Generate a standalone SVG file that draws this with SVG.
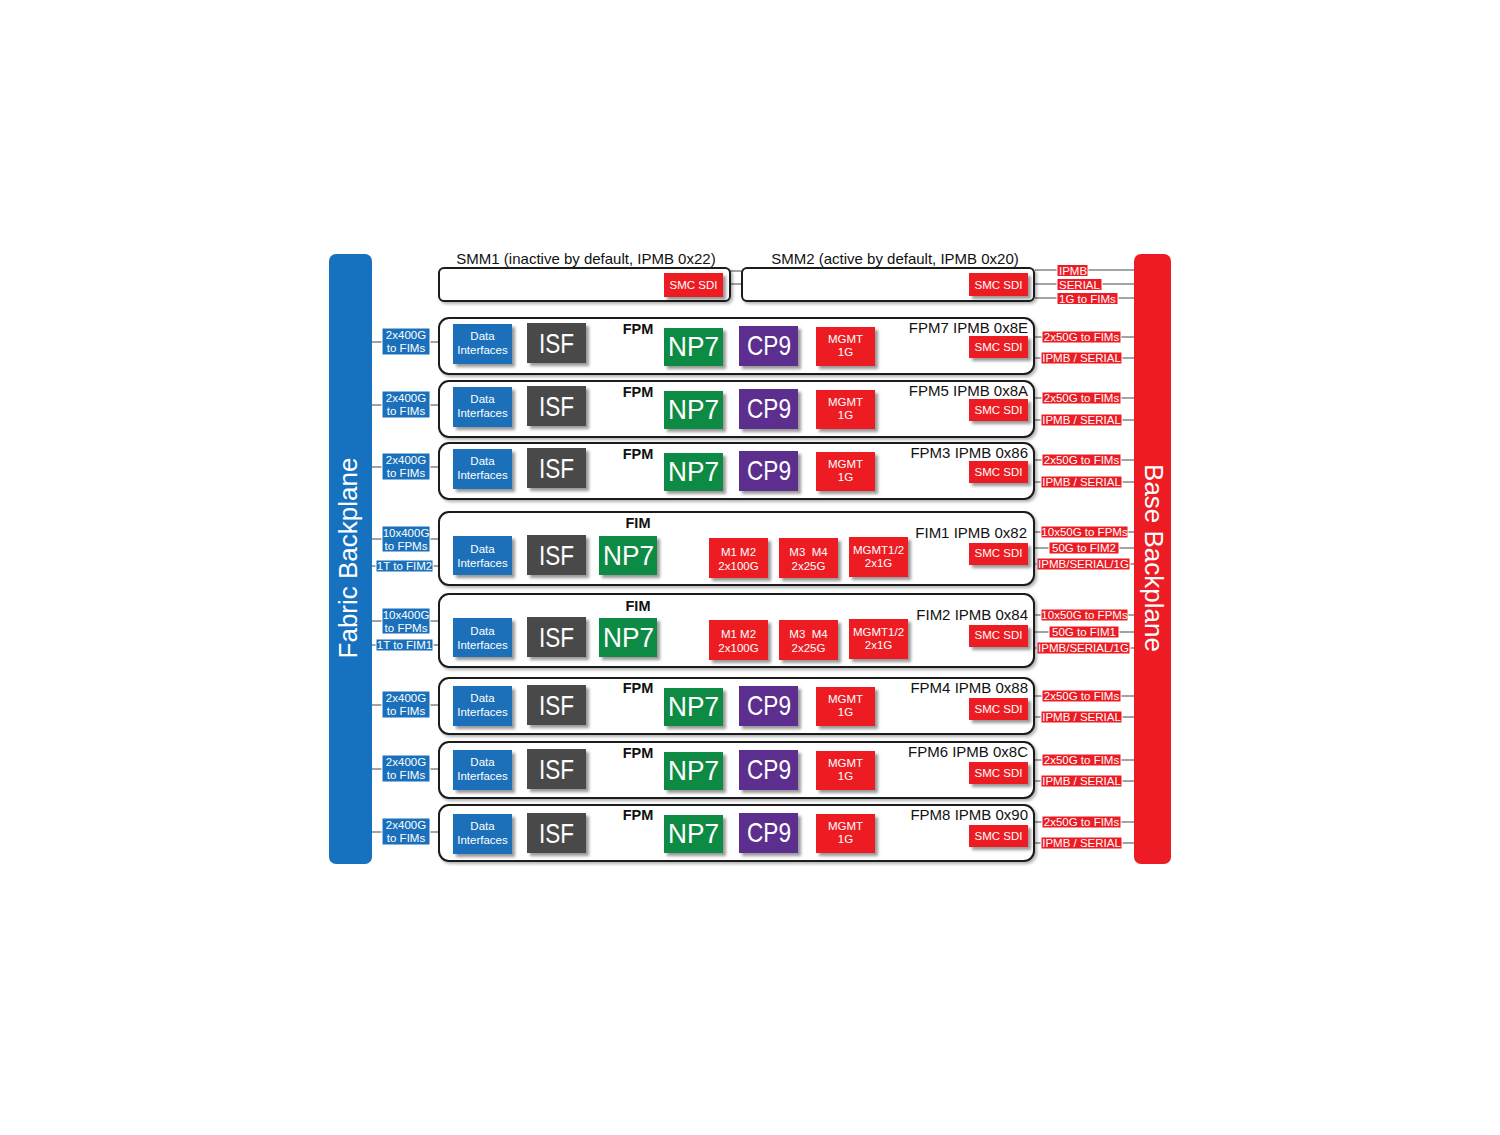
<svg xmlns="http://www.w3.org/2000/svg" width="1500" height="1135" viewBox="0 0 1500 1135">
<defs>
<filter id="sh" x="-20%" y="-20%" width="150%" height="160%">
<feDropShadow dx="3" dy="3" stdDeviation="1.8" flood-color="#000" flood-opacity="0.4"/>
</filter>
<filter id="shr" x="-5%" y="-10%" width="110%" height="130%">
<feDropShadow dx="2" dy="2" stdDeviation="1.5" flood-color="#000" flood-opacity="0.3"/>
</filter>
</defs>
<style>
text{font-family:"Liberation Sans",Arial,sans-serif;}
.row{fill:#fff;stroke:#1a1a1a;stroke-width:2;filter:url(#shr);}
.di{fill:#1a70ba;filter:url(#sh);}
.isf{fill:#4a4a4a;filter:url(#sh);}
.np{fill:#0b8b45;filter:url(#sh);}
.cp{fill:#5c2d8e;filter:url(#sh);}
.rd{fill:#ec1c24;filter:url(#sh);}
.lb{fill:#1a70ba;stroke:#fff;stroke-width:1;}
.lr{fill:#ec1c24;stroke:#fff;stroke-width:1;}
.cn{stroke:#a3a3a3;stroke-width:2;fill:none;}
.w{fill:#fff;}
.m{text-anchor:middle;}
.s11{font-size:11.5px;}
.big{font-size:28px;fill:#fff;}
.ttl{font-size:15px;fill:#111;}
.hd{font-size:14.5px;font-weight:bold;fill:#111;text-anchor:middle;}
.pre{white-space:pre;}
</style>
<rect width="1500" height="1135" fill="#fff"/>

<g id="fabric-backplane">
<rect x="329" y="254" width="43" height="610" rx="7" fill="#1672bf"/>
<text class="w m" font-size="26" transform="translate(357,558) rotate(-90)">Fabric Backplane</text>
</g>
<g id="base-backplane">
<rect x="1134" y="254" width="37" height="610" rx="7" fill="#ed1c24"/>
<text class="w m" font-size="26" transform="translate(1145,558) rotate(90)">Base Backplane</text>
</g>

<g id="connectors">
<!-- SMM links -->
<line class="cn" x1="730" y1="271" x2="742" y2="271"/>
<line class="cn" x1="730" y1="284" x2="742" y2="284"/>
<line class="cn" x1="1035" y1="270" x2="1134" y2="270"/>
<line class="cn" x1="1035" y1="284" x2="1134" y2="284"/>
<line class="cn" x1="1035" y1="298" x2="1134" y2="298"/>
<!-- left fabric links FPM -->
<line class="cn" x1="372" y1="342" x2="439" y2="342"/>
<line class="cn" x1="372" y1="405" x2="439" y2="405"/>
<line class="cn" x1="372" y1="467" x2="439" y2="467"/>
<line class="cn" x1="372" y1="539" x2="439" y2="539"/>
<line class="cn" x1="372" y1="566" x2="439" y2="566"/>
<line class="cn" x1="372" y1="621" x2="439" y2="621"/>
<line class="cn" x1="372" y1="645" x2="439" y2="645"/>
<line class="cn" x1="372" y1="705" x2="439" y2="705"/>
<line class="cn" x1="372" y1="769" x2="439" y2="769"/>
<line class="cn" x1="372" y1="832" x2="439" y2="832"/>
<!-- right base links -->
<line class="cn" x1="1034" y1="337" x2="1134" y2="337"/>
<line class="cn" x1="1034" y1="358" x2="1134" y2="358"/>
<line class="cn" x1="1034" y1="398" x2="1134" y2="398"/>
<line class="cn" x1="1034" y1="420" x2="1134" y2="420"/>
<line class="cn" x1="1034" y1="460" x2="1134" y2="460"/>
<line class="cn" x1="1034" y1="482" x2="1134" y2="482"/>
<line class="cn" x1="1034" y1="532" x2="1134" y2="532"/>
<line class="cn" x1="1034" y1="548" x2="1134" y2="548"/>
<line class="cn" x1="1034" y1="564" x2="1134" y2="564"/>
<line class="cn" x1="1034" y1="615" x2="1134" y2="615"/>
<line class="cn" x1="1034" y1="632" x2="1134" y2="632"/>
<line class="cn" x1="1034" y1="648" x2="1134" y2="648"/>
<line class="cn" x1="1034" y1="696" x2="1134" y2="696"/>
<line class="cn" x1="1034" y1="717" x2="1134" y2="717"/>
<line class="cn" x1="1034" y1="760" x2="1134" y2="760"/>
<line class="cn" x1="1034" y1="781" x2="1134" y2="781"/>
<line class="cn" x1="1034" y1="822" x2="1134" y2="822"/>
<line class="cn" x1="1034" y1="843" x2="1134" y2="843"/>

<!-- SMM right labels -->
<rect class="lr" x="1057" y="264.5" width="31" height="12"/>
<text class="w s11" x="1059" y="274.5">IPMB</text>
<rect class="lr" x="1057" y="278.5" width="45" height="12"/>
<text class="w s11" x="1059" y="288.5">SERIAL</text>
<rect class="lr" x="1057" y="292.5" width="61" height="12"/>
<text class="w s11" x="1059" y="302.5">1G to FIMs</text>

<!-- left labels -->
<g class="s11">
<rect class="lb" x="382" y="328" width="48" height="27"/>
<text class="w m" x="406" y="339">2x400G</text><text class="w m" x="406" y="352">to FIMs</text>
<rect class="lb" x="382" y="391" width="48" height="27"/>
<text class="w m" x="406" y="402">2x400G</text><text class="w m" x="406" y="415">to FIMs</text>
<rect class="lb" x="382" y="453" width="48" height="27"/>
<text class="w m" x="406" y="464">2x400G</text><text class="w m" x="406" y="477">to FIMs</text>
<rect class="lb" x="382" y="526" width="48" height="26"/>
<text class="w m" x="406" y="537">10x400G</text><text class="w m" x="406" y="550">to FPMs</text>
<rect class="lb" x="376" y="560" width="57" height="12"/>
<text class="w m" x="404.5" y="570">1T to FIM2</text>
<rect class="lb" x="382" y="608" width="48" height="26"/>
<text class="w m" x="406" y="619">10x400G</text><text class="w m" x="406" y="632">to FPMs</text>
<rect class="lb" x="376" y="639" width="57" height="12"/>
<text class="w m" x="404.5" y="649">1T to FIM1</text>
<rect class="lb" x="382" y="691" width="48" height="27"/>
<text class="w m" x="406" y="702">2x400G</text><text class="w m" x="406" y="715">to FIMs</text>
<rect class="lb" x="382" y="755" width="48" height="27"/>
<text class="w m" x="406" y="766">2x400G</text><text class="w m" x="406" y="779">to FIMs</text>
<rect class="lb" x="382" y="818" width="48" height="27"/>
<text class="w m" x="406" y="829">2x400G</text><text class="w m" x="406" y="842">to FIMs</text>
</g>

<!-- right labels -->
<g class="s11">
<rect class="lr" x="1042" y="331" width="79" height="12"/><text class="w m" x="1081.5" y="341">2x50G to FIMs</text>
<rect class="lr" x="1041" y="352" width="81" height="12"/><text class="w m" x="1081.5" y="362">IPMB / SERIAL</text>
<rect class="lr" x="1042" y="392" width="79" height="12"/><text class="w m" x="1081.5" y="402">2x50G to FIMs</text>
<rect class="lr" x="1041" y="414" width="81" height="12"/><text class="w m" x="1081.5" y="424">IPMB / SERIAL</text>
<rect class="lr" x="1042" y="454" width="79" height="12"/><text class="w m" x="1081.5" y="464">2x50G to FIMs</text>
<rect class="lr" x="1041" y="476" width="81" height="12"/><text class="w m" x="1081.5" y="486">IPMB / SERIAL</text>
<rect class="lr" x="1041" y="526" width="87" height="12"/><text class="w m" x="1084.5" y="536">10x50G to FPMs</text>
<rect class="lr" x="1049" y="542" width="70" height="12"/><text class="w m" x="1084" y="552">50G to FIM2</text>
<rect class="lr" x="1037" y="558" width="93" height="12"/><text class="w m" x="1083.5" y="568">IPMB/SERIAL/1G</text>
<rect class="lr" x="1041" y="609" width="87" height="12"/><text class="w m" x="1084.5" y="619">10x50G to FPMs</text>
<rect class="lr" x="1049" y="626" width="70" height="12"/><text class="w m" x="1084" y="636">50G to FIM1</text>
<rect class="lr" x="1037" y="642" width="93" height="12"/><text class="w m" x="1083.5" y="652">IPMB/SERIAL/1G</text>
<rect class="lr" x="1042" y="690" width="79" height="12"/><text class="w m" x="1081.5" y="700">2x50G to FIMs</text>
<rect class="lr" x="1041" y="711" width="81" height="12"/><text class="w m" x="1081.5" y="721">IPMB / SERIAL</text>
<rect class="lr" x="1042" y="754" width="79" height="12"/><text class="w m" x="1081.5" y="764">2x50G to FIMs</text>
<rect class="lr" x="1041" y="775" width="81" height="12"/><text class="w m" x="1081.5" y="785">IPMB / SERIAL</text>
<rect class="lr" x="1042" y="816" width="79" height="12"/><text class="w m" x="1081.5" y="826">2x50G to FIMs</text>
<rect class="lr" x="1041" y="837" width="81" height="12"/><text class="w m" x="1081.5" y="847">IPMB / SERIAL</text>
</g>
</g>

<g id="smm1">
<text class="ttl m" x="586" y="264">SMM1 (inactive by default, IPMB 0x22)</text>
<rect class="row" x="439" y="268" width="291" height="33" rx="5"/>
<rect class="rd" x="664" y="273" width="59" height="24"/>
<text class="w m s11" x="693.5" y="289">SMC SDI</text>
</g>
<g id="smm2">
<text class="ttl m" x="895" y="264">SMM2 (active by default, IPMB 0x20)</text>
<rect class="row" x="742" y="268" width="292" height="33" rx="5"/>
<rect class="rd" x="969" y="273" width="59" height="23"/>
<text class="w m s11" x="998.5" y="289">SMC SDI</text>
</g>

<g id="fpm7" transform="translate(0,318)">
<rect class="row" x="439" y="0" width="595" height="56" rx="10"/>
<rect class="di" x="453" y="6" width="59" height="40"/>
<text class="w m s11" x="482.5" y="22">Data</text><text class="w m s11" x="482.5" y="36">Interfaces</text>
<rect class="isf" x="527" y="5" width="59" height="40"/>
<text class="big" x="539" y="35" textLength="35" lengthAdjust="spacingAndGlyphs">ISF</text>
<text class="hd" x="638" y="16">FPM</text>
<rect class="np" x="664" y="10" width="59" height="38"/>
<text class="big" x="668" y="38" textLength="51" lengthAdjust="spacingAndGlyphs">NP7</text>
<rect class="cp" x="739" y="8" width="59" height="40"/>
<text class="big" x="747" y="37" textLength="44" lengthAdjust="spacingAndGlyphs">CP9</text>
<rect class="rd" x="816" y="9" width="59" height="39"/>
<text class="w m s11" x="845.5" y="25">MGMT</text><text class="w m s11" x="845.5" y="38">1G</text>
<text class="ttl" x="1028" y="15" text-anchor="end">FPM7 IPMB 0x8E</text>
<rect class="rd" x="969" y="18" width="59" height="22"/>
<text class="w m s11" x="998.5" y="33">SMC SDI</text>
</g>

<g id="fpm5" transform="translate(0,381)">
<rect class="row" x="439" y="0" width="595" height="56" rx="10"/>
<rect class="di" x="453" y="6" width="59" height="40"/>
<text class="w m s11" x="482.5" y="22">Data</text><text class="w m s11" x="482.5" y="36">Interfaces</text>
<rect class="isf" x="527" y="5" width="59" height="40"/>
<text class="big" x="539" y="35" textLength="35" lengthAdjust="spacingAndGlyphs">ISF</text>
<text class="hd" x="638" y="16">FPM</text>
<rect class="np" x="664" y="10" width="59" height="38"/>
<text class="big" x="668" y="38" textLength="51" lengthAdjust="spacingAndGlyphs">NP7</text>
<rect class="cp" x="739" y="8" width="59" height="40"/>
<text class="big" x="747" y="37" textLength="44" lengthAdjust="spacingAndGlyphs">CP9</text>
<rect class="rd" x="816" y="9" width="59" height="39"/>
<text class="w m s11" x="845.5" y="25">MGMT</text><text class="w m s11" x="845.5" y="38">1G</text>
<text class="ttl" x="1028" y="15" text-anchor="end">FPM5 IPMB 0x8A</text>
<rect class="rd" x="969" y="18" width="59" height="22"/>
<text class="w m s11" x="998.5" y="33">SMC SDI</text>
</g>

<g id="fpm3" transform="translate(0,443)">
<rect class="row" x="439" y="0" width="595" height="56" rx="10"/>
<rect class="di" x="453" y="6" width="59" height="40"/>
<text class="w m s11" x="482.5" y="22">Data</text><text class="w m s11" x="482.5" y="36">Interfaces</text>
<rect class="isf" x="527" y="5" width="59" height="40"/>
<text class="big" x="539" y="35" textLength="35" lengthAdjust="spacingAndGlyphs">ISF</text>
<text class="hd" x="638" y="16">FPM</text>
<rect class="np" x="664" y="10" width="59" height="38"/>
<text class="big" x="668" y="38" textLength="51" lengthAdjust="spacingAndGlyphs">NP7</text>
<rect class="cp" x="739" y="8" width="59" height="40"/>
<text class="big" x="747" y="37" textLength="44" lengthAdjust="spacingAndGlyphs">CP9</text>
<rect class="rd" x="816" y="9" width="59" height="39"/>
<text class="w m s11" x="845.5" y="25">MGMT</text><text class="w m s11" x="845.5" y="38">1G</text>
<text class="ttl" x="1028" y="15" text-anchor="end">FPM3 IPMB 0x86</text>
<rect class="rd" x="969" y="18" width="59" height="22"/>
<text class="w m s11" x="998.5" y="33">SMC SDI</text>
</g>

<g id="fim1" transform="translate(0,512)">
<rect class="row" x="439" y="0" width="595" height="73" rx="10"/>
<text class="hd" x="638" y="16">FIM</text>
<rect class="di" x="453" y="24" width="59" height="39"/>
<text class="w m s11" x="482.5" y="41">Data</text><text class="w m s11" x="482.5" y="55">Interfaces</text>
<rect class="isf" x="527" y="23" width="59" height="40"/>
<text class="big" x="539" y="53" textLength="35" lengthAdjust="spacingAndGlyphs">ISF</text>
<rect class="np" x="599" y="24" width="58" height="39"/>
<text class="big" x="603" y="53" textLength="51" lengthAdjust="spacingAndGlyphs">NP7</text>
<rect class="rd" x="709" y="26" width="59" height="40"/>
<text class="w m s11" x="738.5" y="44">M1 M2</text><text class="w m s11" x="738.5" y="58">2x100G</text>
<rect class="rd" x="779" y="26" width="59" height="40"/>
<text class="w m s11 pre" x="808.5" y="44">M3  M4</text><text class="w m s11" x="808.5" y="58">2x25G</text>
<rect class="rd" x="849" y="25" width="59" height="40"/>
<text class="w m s11" x="878.5" y="42">MGMT1/2</text><text class="w m s11" x="878.5" y="55">2x1G</text>
<text class="ttl" x="1027" y="26" text-anchor="end">FIM1 IPMB 0x82</text>
<rect class="rd" x="969" y="31" width="59" height="22"/>
<text class="w m s11" x="998.5" y="45">SMC SDI</text>
</g>

<g id="fim2" transform="translate(0,594)">
<rect class="row" x="439" y="0" width="595" height="73" rx="10"/>
<text class="hd" x="638" y="17">FIM</text>
<rect class="di" x="453" y="24" width="59" height="39"/>
<text class="w m s11" x="482.5" y="41">Data</text><text class="w m s11" x="482.5" y="55">Interfaces</text>
<rect class="isf" x="527" y="23" width="59" height="40"/>
<text class="big" x="539" y="53" textLength="35" lengthAdjust="spacingAndGlyphs">ISF</text>
<rect class="np" x="599" y="24" width="58" height="39"/>
<text class="big" x="603" y="53" textLength="51" lengthAdjust="spacingAndGlyphs">NP7</text>
<rect class="rd" x="709" y="26" width="59" height="40"/>
<text class="w m s11" x="738.5" y="44">M1 M2</text><text class="w m s11" x="738.5" y="58">2x100G</text>
<rect class="rd" x="779" y="26" width="59" height="40"/>
<text class="w m s11 pre" x="808.5" y="44">M3  M4</text><text class="w m s11" x="808.5" y="58">2x25G</text>
<rect class="rd" x="849" y="25" width="59" height="40"/>
<text class="w m s11" x="878.5" y="42">MGMT1/2</text><text class="w m s11" x="878.5" y="55">2x1G</text>
<text class="ttl" x="1028" y="26" text-anchor="end">FIM2 IPMB 0x84</text>
<rect class="rd" x="969" y="31" width="59" height="22"/>
<text class="w m s11" x="998.5" y="45">SMC SDI</text>
</g>

<g id="fpm4" transform="translate(0,678)">
<rect class="row" x="439" y="0" width="595" height="56" rx="10"/>
<rect class="di" x="453" y="8" width="59" height="40"/>
<text class="w m s11" x="482.5" y="24">Data</text><text class="w m s11" x="482.5" y="38">Interfaces</text>
<rect class="isf" x="527" y="7" width="59" height="40"/>
<text class="big" x="539" y="37" textLength="35" lengthAdjust="spacingAndGlyphs">ISF</text>
<text class="hd" x="638" y="15">FPM</text>
<rect class="np" x="664" y="10" width="59" height="38"/>
<text class="big" x="668" y="38" textLength="51" lengthAdjust="spacingAndGlyphs">NP7</text>
<rect class="cp" x="739" y="8" width="59" height="40"/>
<text class="big" x="747" y="37" textLength="44" lengthAdjust="spacingAndGlyphs">CP9</text>
<rect class="rd" x="816" y="9" width="59" height="39"/>
<text class="w m s11" x="845.5" y="25">MGMT</text><text class="w m s11" x="845.5" y="38">1G</text>
<text class="ttl" x="1028" y="15" text-anchor="end">FPM4 IPMB 0x88</text>
<rect class="rd" x="969" y="20" width="59" height="22"/>
<text class="w m s11" x="998.5" y="35">SMC SDI</text>
</g>

<g id="fpm6" transform="translate(0,742)">
<rect class="row" x="439" y="0" width="595" height="56" rx="10"/>
<rect class="di" x="453" y="8" width="59" height="40"/>
<text class="w m s11" x="482.5" y="24">Data</text><text class="w m s11" x="482.5" y="38">Interfaces</text>
<rect class="isf" x="527" y="7" width="59" height="40"/>
<text class="big" x="539" y="37" textLength="35" lengthAdjust="spacingAndGlyphs">ISF</text>
<text class="hd" x="638" y="16">FPM</text>
<rect class="np" x="664" y="10" width="59" height="38"/>
<text class="big" x="668" y="38" textLength="51" lengthAdjust="spacingAndGlyphs">NP7</text>
<rect class="cp" x="739" y="8" width="59" height="40"/>
<text class="big" x="747" y="37" textLength="44" lengthAdjust="spacingAndGlyphs">CP9</text>
<rect class="rd" x="816" y="9" width="59" height="39"/>
<text class="w m s11" x="845.5" y="25">MGMT</text><text class="w m s11" x="845.5" y="38">1G</text>
<text class="ttl" x="1028" y="15" text-anchor="end">FPM6 IPMB 0x8C</text>
<rect class="rd" x="969" y="20" width="59" height="22"/>
<text class="w m s11" x="998.5" y="35">SMC SDI</text>
</g>

<g id="fpm8" transform="translate(0,805)">
<rect class="row" x="439" y="0" width="595" height="56" rx="10"/>
<rect class="di" x="453" y="9" width="59" height="40"/>
<text class="w m s11" x="482.5" y="25">Data</text><text class="w m s11" x="482.5" y="39">Interfaces</text>
<rect class="isf" x="527" y="8" width="59" height="40"/>
<text class="big" x="539" y="38" textLength="35" lengthAdjust="spacingAndGlyphs">ISF</text>
<text class="hd" x="638" y="15">FPM</text>
<rect class="np" x="664" y="10" width="59" height="38"/>
<text class="big" x="668" y="38" textLength="51" lengthAdjust="spacingAndGlyphs">NP7</text>
<rect class="cp" x="739" y="8" width="59" height="40"/>
<text class="big" x="747" y="37" textLength="44" lengthAdjust="spacingAndGlyphs">CP9</text>
<rect class="rd" x="816" y="9" width="59" height="39"/>
<text class="w m s11" x="845.5" y="25">MGMT</text><text class="w m s11" x="845.5" y="38">1G</text>
<text class="ttl" x="1028" y="15" text-anchor="end">FPM8 IPMB 0x90</text>
<rect class="rd" x="969" y="20" width="59" height="22"/>
<text class="w m s11" x="998.5" y="35">SMC SDI</text>
</g>
</svg>
